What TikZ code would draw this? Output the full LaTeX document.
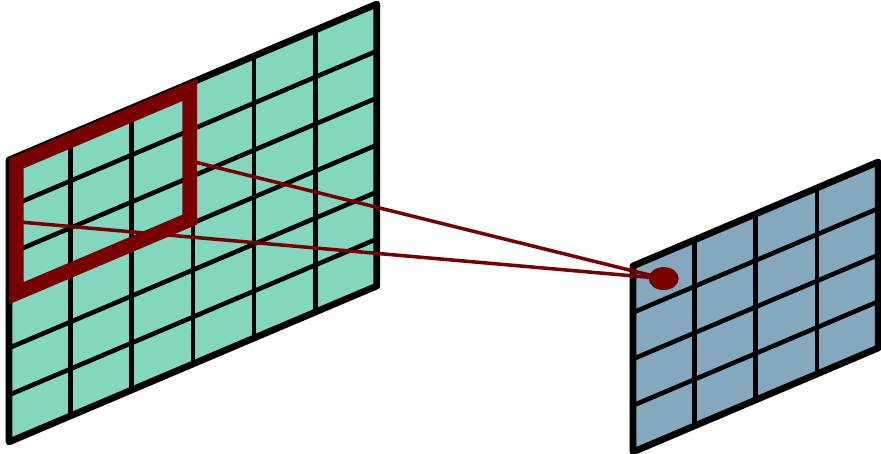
\documentclass[tikz,border=0pt]{standalone}
\usepackage{tikz}
\usetikzlibrary{calc,shapes.geometric}
\definecolor{featgreen}{RGB}{131,215,190}
\definecolor{featblue}{RGB}{132,169,191}
\definecolor{winred}{RGB}{120,0,0}

\begin{document}
\begin{tikzpicture}[
  cell/.style = {line width=1.3pt},
  border/.style = {line width=1.9pt, line join=round},
  window/.style = {winred, line width=4.2pt, line join=miter},
  ray/.style = {winred, line width=1pt}]
  \useasboundingbox (0,0) rectangle (8.81,4.54);
  % input layer
  \begin{scope}[shift={(0.09,0.12)}, x={(0.613cm,0.26cm)}, y={(0cm,0.47cm)}]
    \fill[featgreen] (0,0) -- (6,0) -- (6,6) -- (0,6) -- cycle;
    \draw[cell] (1,0)--(1,6);
    \draw[cell] (2,0)--(2,6);
    \draw[cell] (3,0)--(3,6);
    \draw[cell] (4,0)--(4,6);
    \draw[cell] (5,0)--(5,6);
    \draw[cell] (0,1)--(6,1);
    \draw[cell] (0,2)--(6,2);
    \draw[cell] (0,3)--(6,3);
    \draw[cell] (0,4)--(6,4);
    \draw[cell] (0,5)--(6,5);
    \draw[border] (0,0) -- (6,0) -- (6,6) -- (0,6) -- cycle;
    \draw[window] (0.12,3.1) -- (2.95,3.1) -- (2.95,5.86) -- (0.12,5.86) -- cycle;
    \coordinate (winR) at (2.95,4.35);
    \coordinate (winL) at (0.12,4.62);
  \end{scope}
  % output layer
  \begin{scope}[shift={(6.33,0.02)}, x={(0.613cm,0.26cm)}, y={(0cm,0.465cm)}]
    \fill[featblue] (0,0) -- (4,0) -- (4,4) -- (0,4) -- cycle;
    \draw[cell] (1,0)--(1,4);
    \draw[cell] (2,0)--(2,4);
    \draw[cell] (3,0)--(3,4);
    \draw[cell] (0,1)--(4,1);
    \draw[cell] (0,2)--(4,2);
    \draw[cell] (0,3)--(4,3);
    \draw[border] (0,0) -- (4,0) -- (4,4) -- (0,4) -- cycle;
    \coordinate (out) at (0.5,3.45);
  \end{scope}
  \draw[ray] (winR)--(out);
  \draw[ray] (winL)--(out);
  \node[ellipse, fill=winred, inner sep=0pt, minimum width=0.3cm, minimum height=0.23cm] (dot) at (out) {};
\end{tikzpicture}
\end{document}
